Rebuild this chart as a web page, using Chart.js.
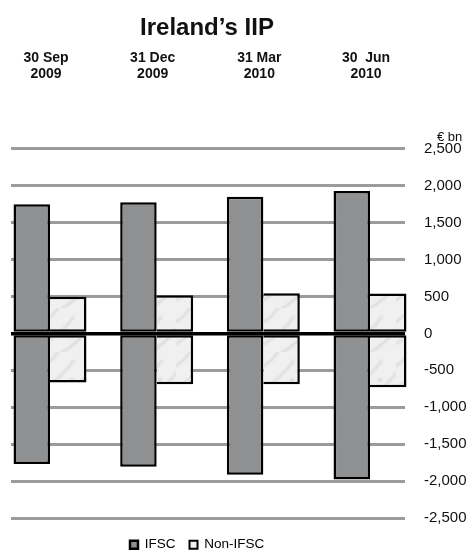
<!DOCTYPE html>
<html>
<head>
<meta charset="utf-8">
<script src="https://cdn.jsdelivr.net/npm/chart.js@4/dist/chart.umd.min.js"></script>
<style>
  html, body { margin: 0; padding: 0; background: #fff; }
  #wrap { width: 473px; height: 554px; }
</style>
</head>
<body>
<div id="wrap"><canvas id="iip" width="473" height="554"></canvas></div>
<script>
// Quarter-end dates (two-line labels)
const categories = [['30 Sep', '2009'], ['31 Dec', '2009'], ['31 Mar', '2010'], ['30  Jun', '2010']];
// € bn, assets above zero, liabilities below
const ifscAssets = [1750, 1775, 1850, 1930];
const ifscLiabilities = [-1770, -1805, -1915, -1980];
const nonIfscAssets = [495, 515, 545, 540];
const nonIfscLiabilities = [-665, -690, -690, -730];
const yTickValues = [-2500, -2000, -1500, -1000, -500, 0, 500, 1000, 1500, 2000, 2500];
const seriesNames = ['IFSC', 'Non-IFSC'];

const FONT = '"Liberation Sans", Arial, Helvetica, sans-serif';
const IFSC_GREY = '#8f9092';

// light marbled fill for the Non-IFSC bars
function marbleFill() {
  const c = document.createElement('canvas');
  c.width = 44; c.height = 44;
  const g = c.getContext('2d');
  g.fillStyle = '#f0f0f1';
  g.fillRect(0, 0, 44, 44);
  g.filter = 'blur(1px)';
  g.strokeStyle = 'rgba(185,187,192,0.55)';
  g.lineWidth = 1.6;
  [[-4, 38, 30, 8], [12, 48, 48, 16], [-8, 18, 16, -4]].forEach(([x1, y1, x2, y2]) => {
    g.beginPath();
    g.moveTo(x1, y1);
    g.quadraticCurveTo((x1 + x2) / 2 + 5, (y1 + y2) / 2 + 4, x2, y2);
    g.stroke();
  });
  g.fillStyle = 'rgba(160,162,168,0.5)';
  g.beginPath(); g.arc(28, 28, 1.6, 0, Math.PI * 2); g.fill();
  return g.createPattern(c, 'repeat');
}
const nonFill = marbleFill();

const idx = categories.map((_, i) => i);

// places the title and legend over the plot, and the unit label over the axis
const framePlugin = {
  id: 'frame',
  afterLayout(chart) {
    const t = chart.titleBlock;
    if (t) {
      const dx = 207 - (t.left + t.right) / 2;
      t.left += dx; t.right += dx;
    }
    const lg = chart.legend;
    if (lg && lg.lineWidths) {
      const pad = lg.options.labels.padding;
      const start = (lg.left + pad + lg.right - lg.lineWidths[0]) / 2;
      const dx = 130 - start;
      lg.left += dx; lg.right += dx;
      lg.top += 6; lg.bottom += 6;
    }
  },
  afterDraw(chart) {
    const ctx = chart.ctx;
    const y = chart.scales.y;
    ctx.save();
    ctx.font = '13px ' + FONT;
    ctx.fillStyle = '#111';
    ctx.textAlign = 'left';
    ctx.textBaseline = 'middle';
    ctx.fillText('€ bn', y.left + 32, chart.chartArea.top - 11);
    ctx.restore();
  }
};

const edge = { top: 2.5, right: 2.5, bottom: 2.5, left: 2.5 };
const edgeNoLeft = { top: 2.5, right: 2.5, bottom: 2.5, left: 0 };

new Chart(document.getElementById('iip'), {
  type: 'bar',
  data: {
    labels: idx,
    datasets: [
      { label: seriesNames[0], data: ifscAssets, stack: 'ifsc', backgroundColor: IFSC_GREY, borderColor: '#000', borderWidth: edge },
      { label: seriesNames[0], data: ifscLiabilities, stack: 'ifsc', backgroundColor: IFSC_GREY, borderColor: '#000', borderWidth: edge },
      { label: seriesNames[1], data: nonIfscAssets, stack: 'non', backgroundColor: nonFill, borderColor: '#000', borderWidth: edgeNoLeft },
      { label: seriesNames[1], data: nonIfscLiabilities, stack: 'non', backgroundColor: nonFill, borderColor: '#000', borderWidth: edgeNoLeft }
    ]
  },
  options: {
    responsive: false,
    animation: false,
    devicePixelRatio: 1,
    layout: { padding: { left: 11, right: 0, top: 0, bottom: -1.5 } },
    datasets: {
      bar: { categoryPercentage: 0.684, barPercentage: 1.0, borderSkipped: false, clip: false }
    },
    scales: {
      x: {
        type: 'linear',
        position: 'top',
        offset: false,
        min: -0.3656,
        max: 3.328,
        grid: { display: false, offset: false },
        border: { display: false },
        afterBuildTicks(s) { s.ticks = idx.map(v => ({ value: v })); },
        afterFit(s) { s.height = 100; s.paddingLeft = 0; s.paddingRight = 0; },
        ticks: {
          padding: 59,
          labelOffset: -4,
          color: '#111',
          font: { family: FONT, size: 14, weight: 'bold', lineHeight: 1.15 },
          maxRotation: 0,
          autoSkip: false,
          callback: (v) => categories[Math.round(v)] || ''
        }
      },
      y: {
        position: 'right',
        stacked: true,
        min: -2500,
        max: 2500,
        border: { display: false },
        afterBuildTicks(s) { s.ticks = yTickValues.map(v => ({ value: v })); },
        afterFit(s) { s.width = 68; },
        grid: {
          drawTicks: false,
          color: (c) => (c.tick && c.tick.value === 0 ? '#000' : '#9b9b9b'),
          lineWidth: (c) => (c.tick && c.tick.value === 0 ? 3.5 : 3)
        },
        ticks: {
          padding: 19,
          color: '#111',
          font: { family: FONT, size: 15 },
          callback: (v) => v.toLocaleString('en-US')
        }
      }
    },
    plugins: {
      title: {
        display: true,
        text: 'Ireland’s IIP',
        color: '#111',
        font: { family: FONT, size: 24, weight: 'bold', lineHeight: 1.2 },
        padding: { top: 14, bottom: 6 }
      },
      legend: {
        position: 'bottom',
        labels: {
          color: '#111',
          font: { family: FONT, size: 13.5 },
          boxWidth: 8,
          boxHeight: 8,
          padding: 14,
          generateLabels: () => [
            { text: seriesNames[0], fillStyle: IFSC_GREY, strokeStyle: '#000', lineWidth: 2.5, datasetIndex: 0 },
            { text: seriesNames[1], fillStyle: '#f0f0f1', strokeStyle: '#000', lineWidth: 2, datasetIndex: 2 }
          ]
        }
      },
      tooltip: { enabled: false }
    }
  },
  plugins: [framePlugin]
});
</script>
</body>
</html>
